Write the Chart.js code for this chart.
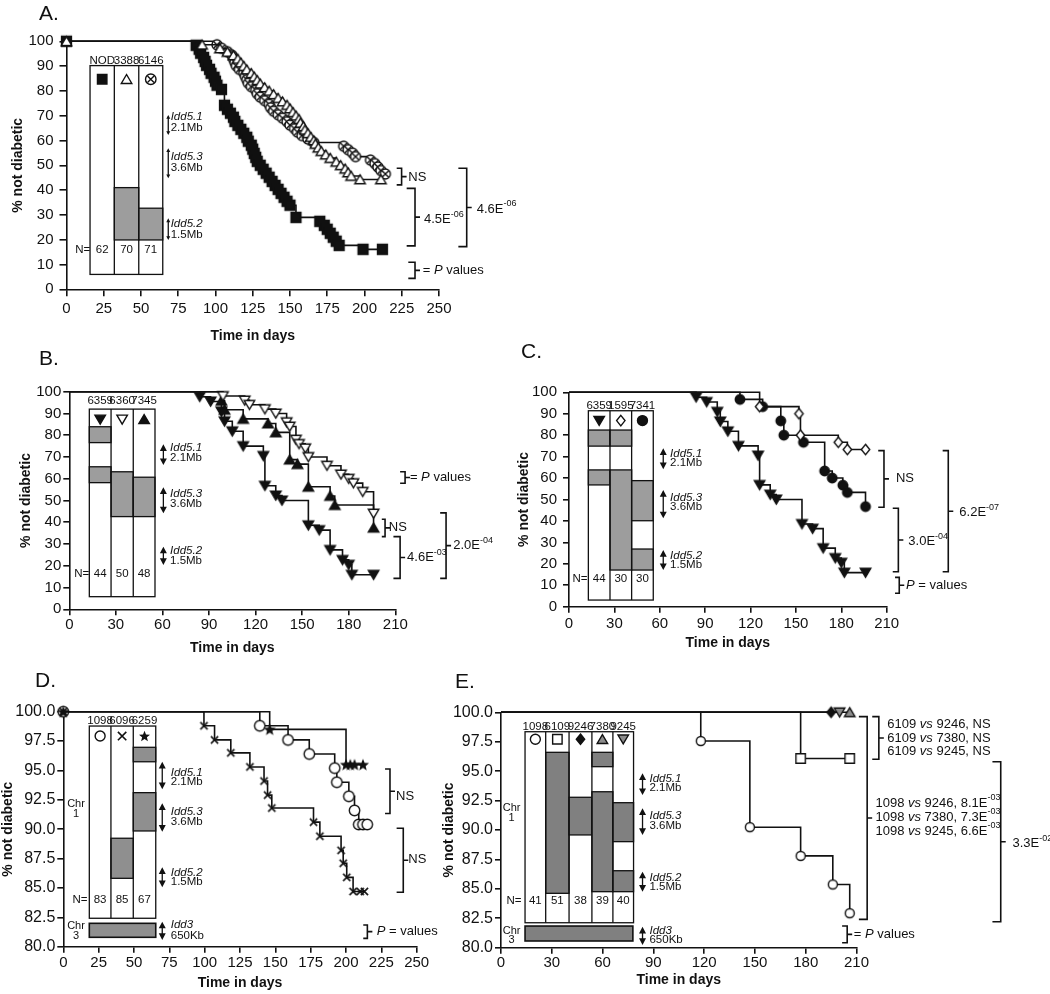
<!DOCTYPE html>
<html>
<head>
<meta charset="utf-8">
<script src="https://cdn.jsdelivr.net/npm/chart.js"></script>
<style>
  html, body { margin: 0; padding: 0; background: #fff; }
  #wrap { position: relative; width: 1050px; height: 994px; overflow: hidden;
          font-family: 'Liberation Sans', Arial, Helvetica, sans-serif; }
  #wrap canvas { position: absolute; left: 0; top: 0; }
  .tag { position: absolute; font-size: 21px; color: #111; line-height: 1; }
</style>
</head>
<body>
<div id="wrap">
  <canvas id="cA" width="1050" height="994"></canvas>
  <canvas id="cB" width="1050" height="994"></canvas>
  <canvas id="cC" width="1050" height="994"></canvas>
  <canvas id="cD" width="1050" height="994"></canvas>
  <canvas id="cE" width="1050" height="994"></canvas>
  <div class="tag" style="left:39px;top:2px">A.</div>
  <div class="tag" style="left:39px;top:347px">B.</div>
  <div class="tag" style="left:521px;top:340px">C.</div>
  <div class="tag" style="left:35px;top:669px">D.</div>
  <div class="tag" style="left:455px;top:670px">E.</div>
</div>
<script>
const INK = '#111';
const FONT = "'Liberation Sans', Arial, Helvetica, sans-serif";

// ---- A: % not diabetic by day (NOD, 3388, 6146) ----
const aNodDays = [0, 87, 89, 90, 92, 93, 94, 96, 97, 99, 100, 101, 104, 106, 108, 110, 112, 113, 115, 117, 119, 121, 122, 124, 125, 126, 127, 128, 130, 132, 134, 136, 138, 140, 142, 144, 146, 148, 150, 154, 170, 173, 175, 177, 179, 181, 183, 199, 212];
const aNodPct  = [100, 98.4, 96.8, 95.2, 93.5, 91.9, 90.3, 88.7, 87.1, 85.5, 83.9, 82.3, 80.6, 74.2, 72.6, 71.0, 69.4, 67.7, 66.1, 64.5, 62.9, 61.3, 59.7, 58.1, 56.5, 54.8, 53.2, 51.6, 50.0, 48.4, 46.8, 45.2, 43.5, 41.9, 40.3, 38.7, 37.1, 35.5, 33.9, 29.0, 27.4, 25.8, 24.2, 22.6, 21.0, 19.4, 17.7, 16.1, 16.1];
const a3388Days = [0, 91, 103, 108, 112, 115, 117, 119, 121, 124, 126, 128, 130, 133, 136, 139, 142, 145, 148, 150, 152, 154, 156, 157, 159, 160, 162, 164, 166, 167, 169, 171, 174, 177, 181, 184, 187, 189, 191, 197, 211];
const a3388Pct  = [100, 98.6, 97.1, 95.7, 94.3, 92.9, 91.4, 90.0, 88.6, 87.1, 85.7, 84.3, 82.9, 81.4, 80.0, 78.6, 77.1, 75.7, 74.3, 72.9, 71.4, 70.0, 68.6, 67.1, 65.7, 64.3, 62.9, 61.4, 60.0, 58.6, 57.1, 55.7, 54.3, 52.9, 51.4, 50.0, 48.6, 47.1, 45.7, 44.3, 44.3];
const a6146Days = [0, 101, 104, 108, 111, 112, 113, 114, 116, 119, 120, 121, 122, 124, 127, 128, 130, 133, 136, 137, 139, 142, 145, 148, 150, 153, 155, 158, 162, 166, 186, 189, 192, 194, 204, 207, 209, 211, 214];
const a6146Pct  = [100, 98.6, 97.2, 95.8, 94.4, 93.0, 91.5, 90.1, 88.7, 87.3, 85.9, 84.5, 83.1, 81.7, 80.3, 78.9, 77.5, 76.1, 74.6, 73.2, 71.8, 70.4, 69.0, 67.6, 66.2, 64.8, 63.4, 62.0, 60.6, 59.2, 57.7, 56.3, 54.9, 53.5, 52.1, 50.7, 49.3, 47.9, 46.5];

// ---- B and C share strain 6359 ----
const s6359Days = [0, 84, 91, 98, 100, 105, 112, 125, 126, 133, 137, 154, 161, 168, 176, 180, 182, 196];
const s6359Pct  = [100, 97.7, 95.5, 90.9, 86.4, 81.8, 75.0, 70.5, 56.8, 52.3, 50.0, 38.6, 36.4, 27.3, 22.7, 20.5, 15.9, 15.9];
const b6360Days = [0, 99, 113, 116, 126, 133, 140, 142, 146, 148, 152, 154, 166, 175, 180, 183, 189, 196];
const b6360Pct  = [100, 98, 96, 94, 92, 90, 86, 84, 78, 76, 74, 70, 66, 62, 60, 58, 54, 44];
const b7345Days = [0, 98, 100, 112, 128, 133, 142, 147, 154, 168, 171, 196];
const b7345Pct  = [100, 95.8, 91.7, 87.5, 85.4, 81.3, 68.8, 66.7, 56.3, 52.1, 47.9, 37.5];

// ---- C ----
const c1595Days = [0, 126, 152, 153, 178, 184, 196];
const c1595Pct  = [100, 93.3, 90.0, 80.0, 76.7, 73.3, 73.3];
const c7341Days = [0, 113, 128, 140, 142, 155, 169, 174, 181, 184, 196];
const c7341Pct  = [100, 96.7, 93.3, 86.7, 80.0, 76.7, 63.3, 60.0, 56.7, 53.3, 46.7];

// ---- D ----
const d1098Days = [0, 139, 159, 174, 192, 193.5, 202, 206, 209, 212, 215];
const d1098Pct  = [100, 98.8, 97.6, 96.4, 95.2, 94.0, 92.8, 91.6, 90.4, 90.4, 90.4];
const d6096Days = [0, 99.5, 107, 118.5, 132, 142, 144.5, 147.5, 177, 181.5, 196.5, 198, 200.5, 205, 210, 213];
const d6096Pct  = [100, 98.8, 97.6, 96.5, 95.3, 94.1, 92.9, 91.8, 90.6, 89.4, 88.2, 87.1, 85.9, 84.7, 84.7, 84.7];
const d6259Days = [0, 146, 200, 203, 206, 212];
const d6259Pct  = [100, 98.5, 95.5, 95.5, 95.5, 95.5];

// ---- E ----
const e1098Days = [0, 118, 147, 177, 196, 206];
const e1098Pct  = [100, 97.56, 90.24, 87.8, 85.37, 82.93];
const e6109Days = [0, 177, 206];
const e6109Pct  = [100, 96.08, 96.08];
const e9246Days = [0, 195];
const e9246Pct  = [100, 100];
const e9245Days = [0, 200];
const e9245Pct  = [100, 100];
const e7380Days = [0, 206];
const e7380Pct  = [100, 100];

// strain labels and group sizes shown in the insets
const aStrains = ['NOD', '3388', '6146'];  const aN = [62, 70, 71];
const bStrains = ['6359', '6360', '7345']; const bN = [44, 50, 48];
const cStrains = ['6359', '1595', '7341']; const cN = [44, 30, 30];
const dStrains = ['1098', '6096', '6259']; const dN = [83, 85, 67];
const eStrains = ['1098', '6109', '9246', '7380', '9245']; const eN = [41, 51, 38, 39, 40];

Chart.defaults.font.family = FONT;
Chart.defaults.color = INK;

// marker shapes, used for both the curves and the inset keys
function drawMarker(ctx, type, x, y, s) {
  const h = s / 2;
  const fills = { F: INK, O: '#fff', G: '#8c8c8c' };
  ctx.save();
  ctx.lineWidth = 1.4;
  ctx.strokeStyle = INK;
  ctx.fillStyle = fills[type.slice(-1)] || '#fff';
  ctx.beginPath();
  if (type === 'cross') {
    const k = h * 0.8;
    ctx.moveTo(x - k, y - k); ctx.lineTo(x + k, y + k);
    ctx.moveTo(x + k, y - k); ctx.lineTo(x - k, y + k);
    ctx.lineWidth = 1.6;
    ctx.stroke();
  } else if (type === 'circX') {
    ctx.fillStyle = '#fff';
    ctx.arc(x, y, h, 0, Math.PI * 2);
    ctx.fill(); ctx.stroke();
    const k = h * 0.62;
    ctx.beginPath();
    ctx.moveTo(x - k, y - k); ctx.lineTo(x + k, y + k);
    ctx.moveTo(x + k, y - k); ctx.lineTo(x - k, y + k);
    ctx.stroke();
  } else if (type === 'starF') {
    for (let i = 0; i < 10; i++) {
      const r = i % 2 ? h * 0.48 : h * 1.1;
      const a = -Math.PI / 2 + i * Math.PI / 5;
      const px = x + r * Math.cos(a), py = y + 0.1 * h + r * Math.sin(a);
      i ? ctx.lineTo(px, py) : ctx.moveTo(px, py);
    }
    ctx.closePath();
    ctx.fill();
  } else {
    const kind = type.slice(0, -1);
    if (kind === 'sq') ctx.rect(x - h * 0.9, y - h * 0.9, s * 0.9, s * 0.9);
    else if (kind === 'circ') ctx.arc(x, y, h * 0.95, 0, Math.PI * 2);
    else if (kind === 'dia') {
      ctx.moveTo(x, y - h); ctx.lineTo(x + h * 0.8, y); ctx.lineTo(x, y + h); ctx.lineTo(x - h * 0.8, y); ctx.closePath();
    } else if (kind === 'tri') {
      ctx.moveTo(x, y - h * 0.9); ctx.lineTo(x + h, y + h * 0.8); ctx.lineTo(x - h, y + h * 0.8); ctx.closePath();
    } else if (kind === 'inv') {
      ctx.moveTo(x, y + h * 0.9); ctx.lineTo(x + h, y - h * 0.8); ctx.lineTo(x - h, y - h * 0.8); ctx.closePath();
    }
    ctx.fill();
    ctx.stroke();
  }
  ctx.restore();
}

function markerImage(type, s) {
  const n = Math.ceil(s + 4);
  const c = document.createElement('canvas');
  c.width = n; c.height = n;
  drawMarker(c.getContext('2d'), type, n / 2, n / 2, s);
  return c;
}

// one Kaplan-Meier curve
function km(days, pct, type, size, showStart) {
  return {
    data: days.map((d, i) => ({ x: d, y: pct[i] })),
    stepped: true,
    borderColor: INK,
    borderWidth: 1.6,
    fill: false,
    tension: 0,
    pointStyle: markerImage(type, size),
    pointRadius: days.map(d => (d === 0 && !showStart) ? 0 : size / 2),
    clip: false
  };
}

function richText(ctx, x, y, parts, size) {
  let cx = x;
  ctx.textAlign = 'left';
  ctx.textBaseline = 'middle';
  parts.forEach(([t, st]) => {
    const sup = st === 's';
    ctx.font = (st === 'i' ? 'italic ' : '') + (sup ? Math.round(size * 0.68) : size) + 'px ' + FONT;
    ctx.fillText(t, cx, sup ? y - size * 0.4 : y);
    cx += ctx.measureText(t).width;
  });
}

function dblArrow(ctx, x, y1, y2, w) {
  const hh = w * 0.95;
  ctx.beginPath();
  ctx.moveTo(x, y1 + hh * 0.5); ctx.lineTo(x, y2 - hh * 0.5);
  ctx.stroke();
  ctx.beginPath();
  ctx.moveTo(x, y1); ctx.lineTo(x - w / 2, y1 + hh); ctx.lineTo(x + w / 2, y1 + hh); ctx.closePath();
  ctx.moveTo(x, y2); ctx.lineTo(x - w / 2, y2 - hh); ctx.lineTo(x + w / 2, y2 - hh); ctx.closePath();
  ctx.fill();
}

function drawInset(ctx, s, X, Y) {
  const c = s.cols.map(X);
  const top = Y(s.top), bot = Y(s.bottom);
  ctx.lineWidth = 1.3;
  ctx.strokeStyle = INK;
  ctx.fillStyle = '#fff';
  ctx.fillRect(c[0], top, c[c.length - 1] - c[0], bot - top);
  s.grey.forEach(([i, a, b]) => {
    ctx.fillStyle = s.fill;
    ctx.fillRect(c[i], Y(a), c[i + 1] - c[i], Y(b) - Y(a));
    ctx.strokeRect(c[i], Y(a), c[i + 1] - c[i], Y(b) - Y(a));
  });
  ctx.strokeRect(c[0], top, c[c.length - 1] - c[0], bot - top);
  ctx.beginPath();
  for (let i = 1; i < c.length - 1; i++) { ctx.moveTo(c[i], top); ctx.lineTo(c[i], bot); }
  ctx.stroke();

  ctx.fillStyle = INK;
  ctx.font = '11.5px ' + FONT;
  ctx.textAlign = 'center';
  ctx.textBaseline = 'middle';
  s.names.forEach((t, i) => ctx.fillText(t, (c[i] + c[i + 1]) / 2, Y(s.headY)));
  s.ns.forEach((t, i) => ctx.fillText(String(t), (c[i] + c[i + 1]) / 2, Y(s.nY)));
  ctx.fillText('N=', X(s.nLabelX), Y(s.nY));
  s.syms.forEach((m, i) => drawMarker(ctx, m, (c[i] + c[i + 1]) / 2, Y(s.symY), s.symSize));

  const loci = s.loci.slice();
  if (s.chr3) loci.push(s.chr3.locus);
  loci.forEach(([name, size, ny, sy, a1, a2]) => {
    ctx.fillStyle = INK;
    dblArrow(ctx, X(s.arrowX), Y(a1), Y(a2), s.headW);
    richText(ctx, X(s.textX), Y(ny), [[name, 'i']], 11.5);
    richText(ctx, X(s.textX), Y(sy), [[size, 'n']], 11.5);
  });

  if (s.chr1) {
    ctx.font = '11px ' + FONT;
    ctx.textAlign = 'center';
    ctx.fillText('Chr', X(s.chr1.x), Y(s.chr1.y1));
    ctx.fillText('1', X(s.chr1.x), Y(s.chr1.y2));
  }
  if (s.chr3) {
    const b = s.chr3;
    ctx.fillStyle = s.fill;
    ctx.fillRect(X(b.x0), Y(b.top), X(b.x1) - X(b.x0), Y(b.bottom) - Y(b.top));
    ctx.lineWidth = 1.6;
    ctx.strokeRect(X(b.x0), Y(b.top), X(b.x1) - X(b.x0), Y(b.bottom) - Y(b.top));
    ctx.fillStyle = INK;
    ctx.font = '11px ' + FONT;
    ctx.textAlign = 'center';
    ctx.fillText('Chr', X(b.labX), Y(b.y1));
    ctx.fillText('3', X(b.labX), Y(b.y2));
  }
}

function overlay(spec) {
  return {
    id: 'overlay',
    afterDraw(chart) {
      const ctx = chart.ctx;
      const X = v => chart.scales.x.getPixelForValue(v);
      const Y = v => chart.scales.y.getPixelForValue(v);
      ctx.save();
      drawInset(ctx, spec.inset, X, Y);
      ctx.strokeStyle = INK;
      ctx.lineWidth = 1.6;
      spec.brackets.forEach(([x1, x2, y1, y2]) => {
        const mid = (Y(y1) + Y(y2)) / 2;
        ctx.beginPath();
        ctx.moveTo(X(x1), Y(y1)); ctx.lineTo(X(x2), Y(y1));
        ctx.lineTo(X(x2), Y(y2)); ctx.lineTo(X(x1), Y(y2));
        ctx.moveTo(X(x2), mid); ctx.lineTo(X(x2) + 5, mid);
        ctx.stroke();
      });
      ctx.fillStyle = INK;
      spec.notes.forEach(([x, y, parts]) => richText(ctx, X(x), Y(y), parts, 13));
      ctx.restore();
    }
  };
}

function axes(o) {
  const grid = { drawOnChartArea: false, color: INK, lineWidth: 1.6, tickLength: o.tick };
  const border = { display: true, color: INK, width: 1.6 };
  const yTicks = { stepSize: o.yStep, padding: o.yPad, color: INK, font: { size: o.yFont } };
  if (o.yFmt) yTicks.callback = o.yFmt;
  return {
    x: {
      type: 'linear', min: 0, max: o.xMax, grid, border,
      ticks: { stepSize: o.xStep, autoSkip: false, maxRotation: 0, padding: o.xPad, color: INK, font: { size: 15 } },
      title: { display: true, text: 'Time in days', color: INK, font: { size: 14, weight: 'bold' }, padding: 0 },
      afterFit: s => { s.height = o.H; }
    },
    y: {
      type: 'linear', min: o.yMin, max: 100, grid, border, ticks: yTicks,
      title: { display: true, text: '% not diabetic', color: INK, font: { size: 14, weight: 'bold' }, padding: 0 },
      afterFit: s => { s.width = o.W; }
    }
  };
}

function panel(id, o, datasets, spec) {
  new Chart(document.getElementById(id), {
    type: 'line',
    data: { datasets },
    options: {
      responsive: false,
      animation: false,
      events: [],
      layout: { padding: o.pad },
      plugins: { legend: { display: false }, tooltip: { enabled: false } },
      scales: axes(o)
    },
    plugins: [overlay(spec)]
  });
}

const oneDecimal = v => Number(v).toFixed(1);
const loc = (a, b, c) => [['Idd5.1', '2.1Mb', ...a], ['Idd5.3', '3.6Mb', ...b], ['Idd5.2', '1.5Mb', ...c]];

// A
panel('cA',
  { xMax: 250, xStep: 25, yMin: 0, yStep: 10, yFont: 15, tick: 7, xPad: 4, yPad: 6, W: 56.9, H: 55.1,
    pad: { left: 9.6, top: 41.3, right: 611, bottom: 649.6 } },
  [km(a3388Days, a3388Pct, 'triO', 10.5, true),
   km(a6146Days, a6146Pct, 'circX', 10, false),
   km(aNodDays, aNodPct, 'sqF', 11, true)],
  {
    inset: { cols: [15.8, 32.1, 48.5, 64.6], top: 90.2, bottom: 6.0, headY: 92.3, symY: 84.7, nY: 16.1, nLabelX: 10.9,
      names: aStrains, ns: aN, syms: ['sqF', 'triO', 'circX'], symSize: 10.5, fill: '#9d9d9d',
      grey: [[1, 41.0, 19.9], [2, 32.7, 19.9]],
      arrowX: 68.3, textX: 69.9, headW: 4,
      loci: loc([69.6, 65.2, 70.3, 62.2], [53.5, 49.0, 56.9, 44.8], [26.6, 21.9, 28.6, 19.9]) },
    brackets: [[221.6, 224.9, 48.8, 42.1], [228.3, 233.9, 40.7, 17.5], [263.0, 268.6, 48.8, 17.2], [229.4, 233.9, 10.9, 4.4]],
    notes: [[229.4, 45.2, [['NS', 'n']]],
            [239.9, 28.2, [['4.5E', 'n'], ['-06', 's']]],
            [275.3, 32.3, [['4.6E', 'n'], ['-06', 's']]],
            [239.1, 7.8, [['= ', 'n'], ['P', 'i'], [' values', 'n']]]]
  });

// B
panel('cB',
  { xMax: 210, xStep: 30, yMin: 0, yStep: 10, yFont: 15, tick: 6, xPad: 1, yPad: 2, W: 51.7, H: 47.1,
    pad: { left: 17.6, top: 391.7, right: 654.7, bottom: 337.6 } },
  [km(b6360Days, b6360Pct, 'invO', 10.5, false),
   km(b7345Days, b7345Pct, 'triF', 10.5, false),
   km(s6359Days, s6359Pct, 'invF', 10.5, false)],
  {
    inset: { cols: [12.9, 26.9, 41.2, 55.2], top: 92.0, bottom: 5.8, headY: 95.6, symY: 87.3, nY: 16.5, nLabelX: 8.0,
      names: bStrains, ns: bN, syms: ['invF', 'invO', 'triF'], symSize: 10.5, fill: '#9d9d9d',
      grey: [[0, 83.9, 76.6], [0, 65.5, 58.2], [1, 63.2, 42.6], [2, 60.7, 42.6]],
      arrowX: 60.6, textX: 64.9, headW: 7,
      loci: loc([74.0, 69.4, 75.8, 66.3], [53.3, 48.7, 56.1, 44.1], [26.8, 22.2, 28.8, 20.4]) },
    brackets: [[201.3, 203.4, 41.4, 33.4], [208.8, 213.1, 33.4, 14.2], [238.9, 242.7, 44.3, 14.2], [213.1, 216.3, 63.2, 57.9]],
    notes: [[205.8, 37.4, [['NS', 'n']]],
            [217.6, 23.8, [['4.6E', 'n'], ['-03', 's']]],
            [247.3, 29.2, [['2.0E', 'n'], ['-04', 's']]],
            [219.4, 60.6, [['= ', 'n'], ['P', 'i'], [' values', 'n']]]]
  });

// C
panel('cC',
  { xMax: 210, xStep: 30, yMin: 0, yStep: 10, yFont: 15, tick: 6, xPad: 2, yPad: 6, W: 53.4, H: 45,
    pad: { left: 515.6, top: 392.3, right: 163.3, bottom: 342.3 } },
  [km(c1595Days, c1595Pct, 'diaO', 10.5, false),
   km(c7341Days, c7341Pct, 'circF', 10, false),
   km(s6359Days, s6359Pct, 'invF', 10.5, false)],
  {
    inset: { cols: [12.8, 27.1, 41.4, 55.7], top: 91.4, bottom: 3.1, headY: 93.9, symY: 86.8, nY: 12.8, nLabelX: 7.3,
      names: cStrains, ns: cN, syms: ['invF', 'diaO', 'circF'], symSize: 10.5, fill: '#9d9d9d',
      grey: [[0, 82.4, 74.9], [1, 82.4, 74.9], [0, 63.8, 56.8], [1, 63.8, 17.1], [2, 58.8, 40.1], [2, 26.9, 17.1]],
      arrowX: 62.3, textX: 66.8, headW: 7,
      loci: loc([71.2, 66.9, 73.9, 64.1], [50.6, 46.4, 54.4, 41.2], [23.6, 19.3, 26.4, 17.1]) },
    brackets: [[204.4, 208.2, 72.8, 46.4], [214.0, 217.7, 45.9, 16.3], [247.0, 250.7, 72.8, 16.3], [215.5, 218.3, 13.7, 6.3]],
    notes: [[216.1, 59.9, [['NS', 'n']]],
            [224.3, 30.3, [['3.0E', 'n'], ['-04', 's']]],
            [258.0, 43.8, [['6.2E', 'n'], ['-07', 's']]],
            [222.8, 9.8, [['P', 'i'], [' = values', 'n']]]]
  });

// D
panel('cD',
  { xMax: 250, xStep: 25, yMin: 80, yStep: 2.5, yFont: 16, tick: 6, xPad: 1, yPad: 2, W: 63.3, H: 44.7, yFmt: oneDecimal,
    pad: { left: 0, top: 711.7, right: 633.3, bottom: 2.6 } },
  [km(d6259Days, d6259Pct, 'starF', 11.5, true),
   km(d6096Days, d6096Pct, 'cross', 9, true),
   km(d1098Days, d1098Pct, 'circO', 11, true)],
  {
    inset: { cols: [18.4, 33.7, 49.5, 65.4], top: 98.78, bottom: 82.42, headY: 99.2, symY: 97.93, nY: 84.03, nLabelX: 11.8,
      names: dStrains, ns: dN, syms: ['circO', 'cross', 'starF'], symSize: 10.5, fill: '#8f8f8f',
      grey: [[2, 96.97, 95.74], [2, 93.11, 89.85], [1, 89.23, 85.82]],
      arrowX: 70.0, textX: 76.0, headW: 7,
      loci: loc([94.84, 94.02, 95.74, 93.40], [91.49, 90.64, 92.20, 89.79], [86.30, 85.48, 86.76, 85.06]),
      chr1: { x: 9.0, y1: 92.14, y2: 91.29 },
      chr3: { x0: 18.4, x1: 65.4, top: 81.99, bottom: 80.80, labX: 9.0, y1: 81.76, y2: 80.91,
              locus: ['Idd3', '650Kb', 81.85, 80.91, 82.13, 80.57] } },
    brackets: [[227.6, 231.1, 95.12, 91.34], [235.8, 240.5, 90.08, 84.63], [212.2, 215.1, 81.85, 80.71]],
    notes: [[235.4, 92.83, [['NS', 'n']]],
            [244.1, 87.44, [['NS', 'n']]],
            [221.7, 81.3, [['P', 'i'], [' = values', 'n']]]]
  });

// E
panel('cE',
  { xMax: 210, xStep: 30, yMin: 80, yStep: 2.5, yFont: 16, tick: 6, xPad: 0, yPad: 2, W: 60.4, H: 40.7, yFmt: oneDecimal,
    pad: { left: 440.6, top: 712.3, right: 193.5, bottom: 5.6 } },
  [km(e9246Days, e9246Pct, 'diaF', 10.5, false),
   km(e9245Days, e9245Pct, 'invG', 10.5, false),
   km(e7380Days, e7380Pct, 'triG', 10.5, false),
   km(e6109Days, e6109Pct, 'sqO', 10.5, false),
   km(e1098Days, e1098Pct, 'circO', 9.5, false)],
  {
    inset: { cols: [14.2, 26.4, 40.2, 53.7, 66.1, 78.3], top: 98.35, bottom: 82.12, headY: 98.8, symY: 97.71, nY: 83.99, nLabelX: 7.7,
      names: eStrains, ns: eN, syms: ['circO', 'sqO', 'diaF', 'triG', 'invG'], symSize: 10.5, fill: '#808080',
      grey: [[1, 96.60, 84.62], [2, 92.78, 89.58], [3, 96.60, 95.38], [3, 93.25, 84.76], [4, 92.32, 89.01], [4, 86.54, 84.76]],
      arrowX: 83.6, textX: 87.7, headW: 7,
      loci: loc([94.39, 93.59, 94.82, 92.97], [91.19, 90.37, 91.84, 89.58], [85.95, 85.16, 86.46, 84.76]),
      chr1: { x: 6.3, y1: 91.84, y2: 91.04 },
      chr3: { x0: 14.2, x1: 77.9, top: 81.84, bottom: 80.57, labX: 6.3, y1: 81.44, y2: 80.65,
              locus: ['Idd3', '650Kb', 81.44, 80.65, 81.78, 80.23] } },
    brackets: [[219.3, 223.2, 99.63, 96.01], [211.4, 216.3, 99.63, 82.41], [290.3, 295.2, 95.80, 82.21], [201.5, 204.5, 81.84, 80.42]],
    notes: [[228.2, 99.01, [['6109 ', 'n'], ['vs', 'i'], [' 9246, NS', 'n']]],
            [228.2, 97.79, [['6109 ', 'n'], ['vs', 'i'], [' 7380, NS', 'n']]],
            [228.2, 96.65, [['6109 ', 'n'], ['vs', 'i'], [' 9245, NS', 'n']]],
            [221.2, 92.3, [['1098 ', 'n'], ['vs', 'i'], [' 9246, 8.1E', 'n'], ['-03', 's']]],
            [221.2, 91.1, [['1098 ', 'n'], ['vs', 'i'], [' 7380, 7.3E', 'n'], ['-03', 's']]],
            [221.2, 89.9, [['1098 ', 'n'], ['vs', 'i'], [' 9245, 6.6E', 'n'], ['-03', 's']]],
            [302.1, 88.87, [['3.3E', 'n'], ['-02', 's']]],
            [208.4, 81.14, [['= ', 'n'], ['P', 'i'], [' values', 'n']]]]
  });
</script>
</body>
</html>
